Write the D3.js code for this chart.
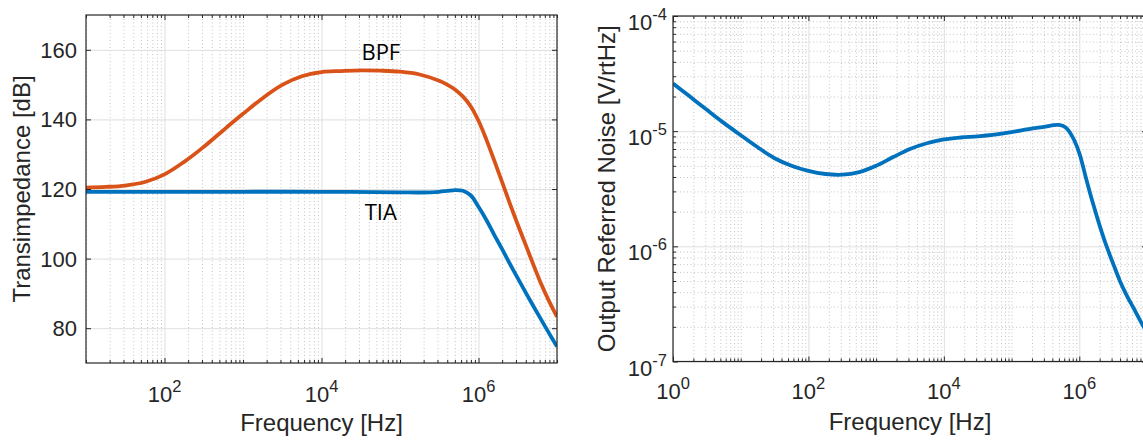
<!DOCTYPE html>
<html>
<head>
<meta charset="utf-8">
<script src="https://cdn.jsdelivr.net/npm/d3@7"></script>
<style>
  body { margin: 0; background: #fff; }
  svg { display: block; }
  text { fill: #262626; font-family: "Liberation Sans", Arial, Helvetica, sans-serif; }
</style>
</head>
<body>
<svg id="chart" width="1143" height="440"></svg>
<script>
// Transimpedance of the bare TIA and of the TIA followed by the band-pass filter (dB)
const tiaFreq = [10, 100, 1e3, 1e4, 1e5, 1.78e5, 3.16e5, 3.98e5, 5.01e5, 6.31e5, 7.94e5, 1e6, 1.26e6, 1.58e6, 2e6, 2.51e6, 3.16e6, 3.98e6, 5.01e6, 6.31e6, 7.94e6, 1e7];
const tiaGain = [119.2, 119.2, 119.2, 119.2, 119.05, 119.0, 119.2, 119.45, 119.7, 119.5, 118.2, 114.9, 111.1, 106.9, 102.7, 98.5, 94.4, 90.3, 86.3, 82.4, 78.5, 74.7];

const bpfFreq = [10, 17.8, 31.6, 56.2, 100, 178, 316, 562, 1e3, 1.78e3, 3.16e3, 5.62e3, 1e4, 1.78e4, 3.16e4, 5.62e4, 1e5, 1.78e5, 3.16e5, 3.98e5, 5.01e5, 6.31e5, 7.94e5, 1e6, 1.26e6, 1.58e6, 2e6, 2.51e6, 3.16e6, 3.98e6, 5.01e6, 6.31e6, 7.94e6, 1e7];
const bpfGain = [120.4, 120.6, 121.0, 122.0, 124.2, 127.8, 132.1, 136.9, 141.6, 146.1, 149.9, 152.4, 153.6, 153.9, 154.1, 154.0, 153.7, 152.9, 151.1, 150.0, 148.6, 146.6, 143.8, 139.6, 134.2, 128.3, 122.0, 115.8, 109.8, 104.0, 98.2, 92.6, 87.7, 83.3];

// Output-referred noise density (V/rtHz)
const noiseFreq = [1, 1.78, 3.16, 5.62, 10, 17.8, 31.6, 56.2, 100, 178, 316, 562, 1e3, 1.78e3, 3.16e3, 5.62e3, 1e4, 1.78e4, 3.16e4, 5.62e4, 1e5, 1.78e5, 3.16e5, 3.98e5, 5.01e5, 6.31e5, 7.94e5, 1e6, 1.26e6, 1.58e6, 2e6, 2.51e6, 3.16e6, 3.98e6, 5.01e6, 6.31e6, 7.94e6, 1e7];
const noiseValue = [2.594e-5, 1.995e-5, 1.531e-5, 1.180e-5, 9.226e-6, 7.244e-6, 5.821e-6, 5.012e-6, 4.519e-6, 4.246e-6, 4.188e-6, 4.416e-6, 5.012e-6, 5.957e-6, 6.998e-6, 7.852e-6, 8.472e-6, 8.810e-6, 9.016e-6, 9.333e-6, 9.817e-6, 1.042e-5, 1.096e-5, 1.122e-5, 1.132e-5, 1.076e-5, 8.913e-6, 6.457e-6, 3.890e-6, 2.399e-6, 1.514e-6, 1.012e-6, 7.079e-7, 5.012e-7, 3.758e-7, 2.917e-7, 2.265e-7, 1.778e-7];

// Tick labels
const gainTicks = [80, 100, 120, 140, 160];
const gainFreqExponents = [2, 4, 6];
const noiseFreqExponents = [0, 2, 4, 6];
const noiseExponents = [-7, -6, -5, -4];

// In-plot curve names (placed in data coordinates)
const curveNames = ["BPF", "TIA"];
const curveNameFreq = [5.7e4, 5.7e4];
const curveNameGain = [157.1, 111.1];

const BLUE = "#0072BD", ORANGE = "#D95319";
const AXIS = "#262626", GRID_MAJOR = "#dfdfdf", GRID_MINOR = "#c4c4c4";

const svg = d3.select("#chart");

// k·10^n positions inside [10^lo, 10^hi] that are not major ticks
function decadeMinors(lo, hi, majors) {
  const out = [];
  for (let e = lo; e < hi; e++) {
    for (let k = 1; k <= 9; k++) {
      const v = k * Math.pow(10, e);
      if (!majors.some(m => Math.abs(m - v) / v < 1e-9)) out.push(v);
    }
  }
  const top = Math.pow(10, hi);
  if (!majors.some(m => Math.abs(m - top) / top < 1e-9)) out.push(top);
  return out;
}

function drawPanel(opt) {
  const { x0, x1, y0, y1 } = opt;
  const w = x1 - x0, h = y1 - y0;
  const x = opt.x.range([0, w]);
  const y = opt.y.range([h, 0]);
  const g = svg.append("g").attr("transform", `translate(${x0},${y0})`);

  const clipId = "clip-" + opt.id;
  g.append("clipPath").attr("id", clipId)
    .append("rect").attr("width", w).attr("height", h);

  // grid: minor (dotted) then major (solid)
  const gridX = (vals, cls) => g.append("g").attr("class", cls)
    .attr("transform", `translate(0,${h})`)
    .call(d3.axisBottom(x).tickValues(vals).tickSize(-h).tickFormat(""));
  const gridY = (vals, cls) => g.append("g").attr("class", cls)
    .call(d3.axisLeft(y).tickValues(vals).tickSize(-w).tickFormat(""));

  gridX(opt.xMinor, "minor");
  if (opt.yMinor.length) gridY(opt.yMinor, "minor");
  gridX(opt.xMajor, "major");
  gridY(opt.yMajor, "major");

  g.selectAll(".minor line").attr("stroke", GRID_MINOR).attr("stroke-width", 1)
    .attr("stroke-dasharray", "1,2.5");
  g.selectAll(".major line").attr("stroke", GRID_MAJOR).attr("stroke-width", 1);
  g.selectAll(".minor .domain, .major .domain").remove();

  // data lines
  const plot = g.append("g").attr("clip-path", `url(#${clipId})`);
  const line = d3.line()
    .x(d => x(d[0])).y(d => y(d[1]))
    .curve(d3.curveCatmullRom.alpha(0.5));
  opt.series.forEach(s => {
    plot.append("path")
      .datum(d3.zip(s.f, s.v))
      .attr("fill", "none")
      .attr("stroke", s.color)
      .attr("stroke-width", 3.8)
      .attr("stroke-linejoin", "round")
      .attr("stroke-linecap", "butt")
      .attr("d", line);
  });

  // inward ticks on all four sides
  const addTicks = (axis, transform, vals, len) => {
    const t = g.append("g").attr("transform", transform)
      .call(axis.tickValues(vals).tickSize(-len).tickFormat(""));
    t.select(".domain").remove();
    t.selectAll("line").attr("stroke", AXIS).attr("stroke-width", 1);
  };
  addTicks(d3.axisBottom(x), `translate(0,${h})`, opt.xMajor, 5);
  addTicks(d3.axisTop(x), `translate(0,0)`, opt.xMajor, 5);
  addTicks(d3.axisBottom(x), `translate(0,${h})`, opt.xMinor, 3);
  addTicks(d3.axisTop(x), `translate(0,0)`, opt.xMinor, 3);
  addTicks(d3.axisLeft(y), `translate(0,0)`, opt.yMajor, 5);
  addTicks(d3.axisRight(y), `translate(${w},0)`, opt.yMajor, 5);
  if (opt.yMinor.length) {
    addTicks(d3.axisLeft(y), `translate(0,0)`, opt.yMinor, 3);
    addTicks(d3.axisRight(y), `translate(${w},0)`, opt.yMinor, 3);
  }

  // axes box
  g.append("rect").attr("width", w).attr("height", h)
    .attr("fill", "none").attr("stroke", AXIS).attr("stroke-width", 1.2);

  return { g, x, y, w, h };
}

function powerLabel(sel, exp) {
  sel.append("tspan").text("10");
  sel.append("tspan").attr("dy", -10).attr("font-size", 16.5).text(String(exp));
}

// ---------------- Left panel: transimpedance ----------------
const leftMajorF = gainFreqExponents.map(e => Math.pow(10, e));
const L = drawPanel({
  id: "gain", x0: 86, x1: 557, y0: 15, y1: 363,
  x: d3.scaleLog().domain([10, 1e7]),
  y: d3.scaleLinear().domain([70, 170]),
  xMajor: leftMajorF,
  xMinor: decadeMinors(1, 7, leftMajorF),
  yMajor: gainTicks,
  yMinor: [],
  series: [
    { f: tiaFreq, v: tiaGain, color: BLUE },
    { f: bpfFreq, v: bpfGain, color: ORANGE }
  ]
});

L.g.selectAll(".ylab").data(gainTicks).join("text")
  .attr("class", "ylab")
  .attr("x", -9).attr("y", d => L.y(d) + 8)
  .attr("text-anchor", "end").attr("font-size", 22)
  .text(d => d);

L.g.selectAll(".xlab").data(gainFreqExponents).join("text")
  .attr("class", "xlab")
  .attr("x", d => L.x(Math.pow(10, d))).attr("y", L.h + 38.5)
  .attr("text-anchor", "middle").attr("font-size", 22)
  .each(function (d) { powerLabel(d3.select(this), d); });

L.g.append("text")
  .attr("x", L.w / 2).attr("y", L.h + 68)
  .attr("text-anchor", "middle").attr("font-size", 24)
  .text("Frequency [Hz]");

L.g.append("text")
  .attr("transform", `translate(${30 - 86},${L.h / 2}) rotate(-90)`)
  .attr("text-anchor", "middle").attr("font-size", 24)
  .text("Transimpedance [dB]");

L.g.selectAll(".curvename").data(curveNames).join("text")
  .attr("class", "curvename")
  .attr("x", (d, i) => L.x(curveNameFreq[i]))
  .attr("y", (d, i) => L.y(curveNameGain[i]))
  .attr("text-anchor", "middle")
  .attr("font-size", 22)
  .style("font-family", "'Open Sans', 'Noto Sans', sans-serif")
  .style("fill", "#000")
  .text(d => d);

// ---------------- Right panel: output-referred noise ----------------
const rightMajorF = noiseFreqExponents.map(e => Math.pow(10, e));
const rightMajorN = noiseExponents.map(e => Math.pow(10, e));
const R = drawPanel({
  id: "noise", x0: 673, x1: 1147, y0: 16, y1: 361.5,
  x: d3.scaleLog().domain([1, 1e7]),
  y: d3.scaleLog().domain([1e-7, 1e-4]),
  xMajor: rightMajorF,
  xMinor: decadeMinors(0, 7, rightMajorF),
  yMajor: rightMajorN,
  yMinor: decadeMinors(-7, -4, rightMajorN),
  series: [
    { f: noiseFreq, v: noiseValue, color: BLUE }
  ]
});

R.g.selectAll(".ylab").data(noiseExponents).join("text")
  .attr("class", "ylab")
  .attr("x", -6).attr("y", d => R.y(Math.pow(10, d)) + 14)
  .attr("text-anchor", "end").attr("font-size", 22)
  .each(function (d) { powerLabel(d3.select(this), d); });

R.g.selectAll(".xlab").data(noiseFreqExponents).join("text")
  .attr("class", "xlab")
  .attr("x", d => R.x(Math.pow(10, d))).attr("y", R.h + 37)
  .attr("text-anchor", "middle").attr("font-size", 22)
  .each(function (d) { powerLabel(d3.select(this), d); });

R.g.append("text")
  .attr("x", R.w / 2).attr("y", R.h + 68)
  .attr("text-anchor", "middle").attr("font-size", 24)
  .text("Frequency [Hz]");

R.g.append("text")
  .attr("transform", `translate(${615 - 673},${R.h / 2}) rotate(-90)`)
  .attr("text-anchor", "middle").attr("font-size", 24)
  .text("Output Referred Noise [V/rtHz]");
</script>
</body>
</html>
